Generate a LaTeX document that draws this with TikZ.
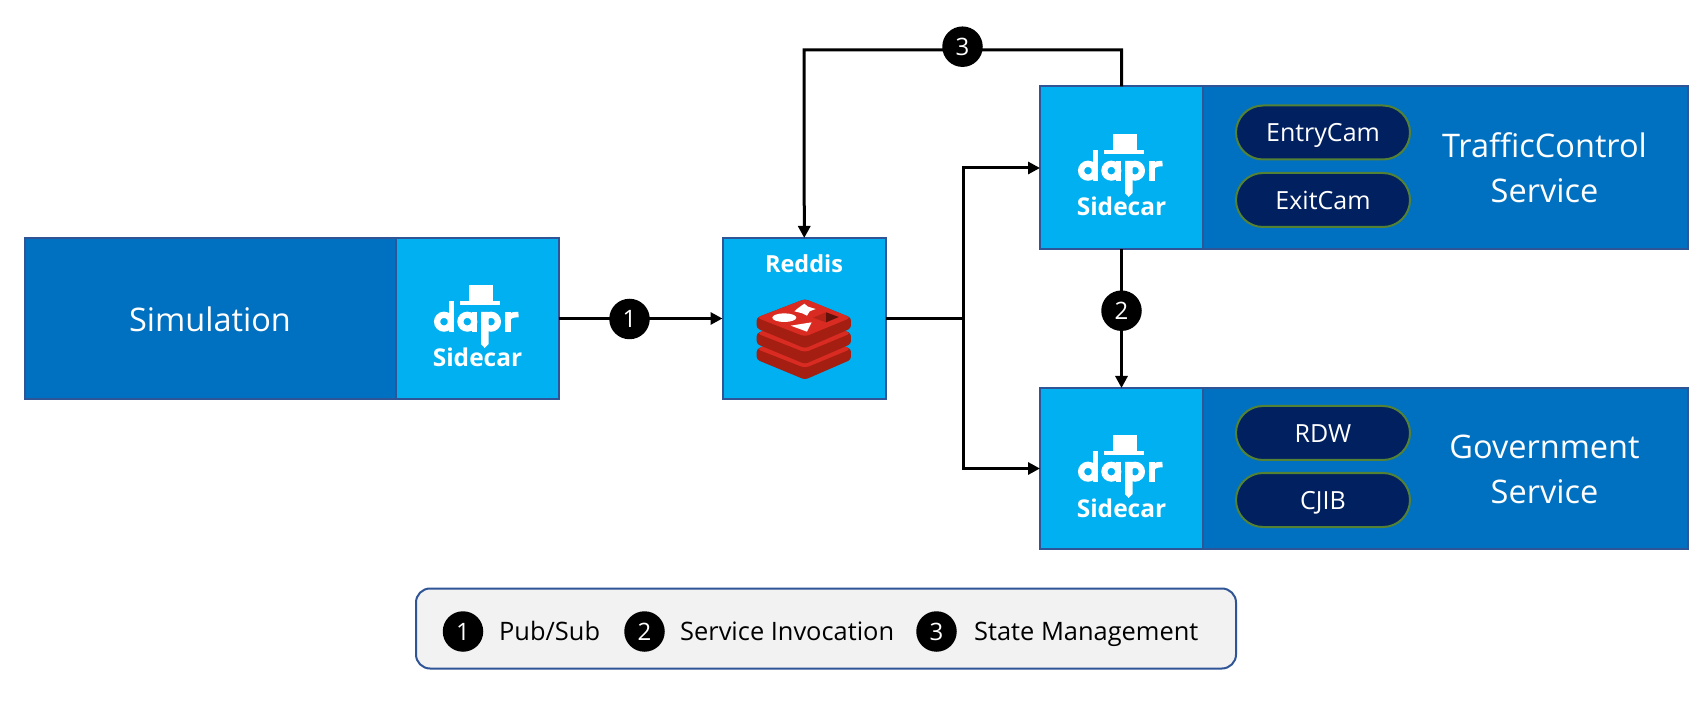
\documentclass[tikz,border=0pt]{standalone}
\usepackage{fontspec}
\setmainfont{Open Sans}
\usetikzlibrary{arrows.meta}
\definecolor{dark}{HTML}{0070C0}
\definecolor{light}{HTML}{00B0F0}
\definecolor{edge}{HTML}{2F5597}
\definecolor{navy}{HTML}{002060}
\definecolor{pillrim}{HTML}{548235}
\definecolor{paneg}{HTML}{F2F2F2}
\definecolor{redtop}{HTML}{D92B21}
\definecolor{redside}{HTML}{A41E11}
\tikzset{
  box/.style={draw=edge,line width=2pt,inner sep=0pt,outer sep=0pt,anchor=north west},
  mainbox/.style={box,fill=dark},
  carbox/.style={box,fill=light},
  pill/.style={draw=pillrim,line width=2pt,fill=navy,rounded corners=27pt,inner sep=0pt,outer sep=0pt,minimum width=174pt,minimum height=54pt,text=white,text height=19pt,text depth=0pt,font=\fontsize{25}{29}\selectfont},
  title/.style={text=white,align=center,font=\fontsize{32.5}{45}\selectfont},
  conn/.style={line width=3pt,draw=black},
  arrowed/.style={conn,-{Triangle[length=12pt,width=12pt]}},
  badge/.style={circle,fill=black,text=white,inner sep=0pt,outer sep=0pt,minimum size=40.5pt,font=\fontsize{24}{28}\selectfont},
  legendtext/.style={anchor=base west,inner sep=0pt,font=\fontsize{25.4}{29}\selectfont},
  daprmark/.pic={
    \fill[white] (-9,-34) rectangle (15.5,-18.3);
    \fill[white] (-17.5,-18.3) rectangle (22,-13.7);
    \begin{scope}[white,line width=6.2pt]
      \draw (-33.5,2.7) circle (6.9pt);
      \draw (-10.2,2.7) circle (6.9pt);
      \draw (13.5,2.7) circle (6.9pt);
      \draw[line width=5.5pt] (-26.2,-18) -- (-26.2,12.7);
      \draw[line width=5.5pt] (-2.9,-7) -- (-2.9,12.7);
    \end{scope}
    \fill[white] (3.5,-7) -- (11,-7) -- (11,25) -- (7.2,29) -- (3.5,25) -- cycle;
    \fill[white] (27.5,-7.3) rectangle (33,12.7);
    \draw[white,line width=5.5pt] (30,3) .. controls (30,-3) and (34,-4.6) .. (41,-4.4);
    \node[text=white,anchor=base,inner sep=0pt,font=\bfseries\fontsize{24.5}{28}\selectfont] at (0,48) {Sidecar};
  }
}
\newcommand{\redislayer}[1]{%
  \fill[redside,rounded corners=3pt] (35,{98+#1}) -- (35,{130+#1}) -- (180,{190+#1}) -- (318,{130+#1}) -- (318,{98+#1}) -- (180,{42+#1}) -- cycle;
  \fill[redtop,rounded corners=4pt] (35,{98+#1}) -- (180,{42+#1}) -- (318,{98+#1}) -- (180,{155+#1}) -- cycle;
}
\begin{document}
\begin{tikzpicture}[x=1pt,y=-1pt]
\useasboundingbox[fill=white] (0,0) rectangle (1690,708);

% boxes
\node[mainbox,minimum width=371pt,minimum height=161pt] (sim) at (24.5,238) {};
\node[carbox,minimum width=163pt,minimum height=161pt] (simcar) at (395.5,238) {};
\node[carbox,minimum width=163.5pt,minimum height=161pt] (redis) at (722.5,238) {};
\node[mainbox,minimum width=485pt,minimum height=163pt] (tsvc) at (1203,86.5) {};
\node[carbox,minimum width=163pt,minimum height=163pt] (tcar) at (1040,86.5) {};
\node[mainbox,minimum width=485pt,minimum height=161pt] (gsvc) at (1203,388) {};
\node[carbox,minimum width=163pt,minimum height=161pt] (gcar) at (1040,388) {};

% connectors
\coordinate (junction) at (963,318.5);
\coordinate (topright) at (1121.5,50);
\coordinate (topleft) at (804.2,50);
\draw[arrowed] (simcar.east) -- (redis.west);
\draw[conn] (redis.east) -- (junction);
\draw[arrowed] (junction) |- (tcar.west);
\draw[arrowed] (junction) |- (gcar.west);
\draw[arrowed] (tcar.south) -- (gcar.north);
\draw[arrowed] (tcar.north) -- (topright) -- (topleft) -- (redis.north);

% badges
\node[badge] (b1) at (629.5,319) {1};
\node[badge] (b2) at (1121.5,310.7) {2};
\node[badge] (b3) at (962.5,46.7) {3};

% service texts
\node[title] (simtitle) at (210,319) {Simulation};
\node[title] (ttitle) at (1544.5,168) {TrafficControl\\Service};
\node[title] (gtitle) at (1544.5,469) {Government\\Service};

% pills
\node[pill] (entry) at (1323,132.5) {EntryCam};
\node[pill] (exit) at (1323,200) {ExitCam};
\node[pill] (rdw) at (1323,433) {RDW};
\node[pill] (cjib) at (1323,500) {CJIB};

% dapr marks
\pic at (477.5,319) {daprmark};
\pic at (1121.5,168) {daprmark};
\pic at (1121.5,469) {daprmark};

% redis
\node[text=white,inner sep=0pt,font=\bfseries\fontsize{23.5}{27}\selectfont] (redistitle) at (804,264) {Reddis};
\begin{scope}[shift={(745,285)},x=0.3333pt,y=-0.3333pt]
  \redislayer{94}
  \redislayer{47}
  \redislayer{0}
  \fill[white] (118,98) ellipse [x radius=36pt*0.3333,y radius=13pt*0.3333];
  \fill[white] (137,122) -- (200,112) -- (186,140) -- cycle;
  \fill[white] (178,56) -- (189,65) -- (212,72) -- (194,79) -- (186,92) -- (172,85) -- (148,79) -- (161,68) -- cycle;
  \fill[redside!65!redtop] (204,98) -- (243,82) -- (281,96) -- (243,112) -- cycle;
  \fill[redside!60!black] (243,82) -- (281,96) -- (243,112) -- cycle;
\end{scope}

% legend
\node[draw=edge,line width=2pt,fill=paneg,rounded corners=14pt,inner sep=0pt,outer sep=0pt,anchor=north west,minimum width=820pt,minimum height=80pt] (legend) at (416,588.5) {};
\node[badge] (l1) at (463,631.5) {1};
\node[badge] (l2) at (644.5,631.5) {2};
\node[badge] (l3) at (936.5,631.5) {3};
\node[legendtext] (t1) at (499,640) {Pub/Sub};
\node[legendtext] (t2) at (680,640) {Service Invocation};
\node[legendtext] (t3) at (974,640) {State Management};
\end{tikzpicture}
\end{document}
